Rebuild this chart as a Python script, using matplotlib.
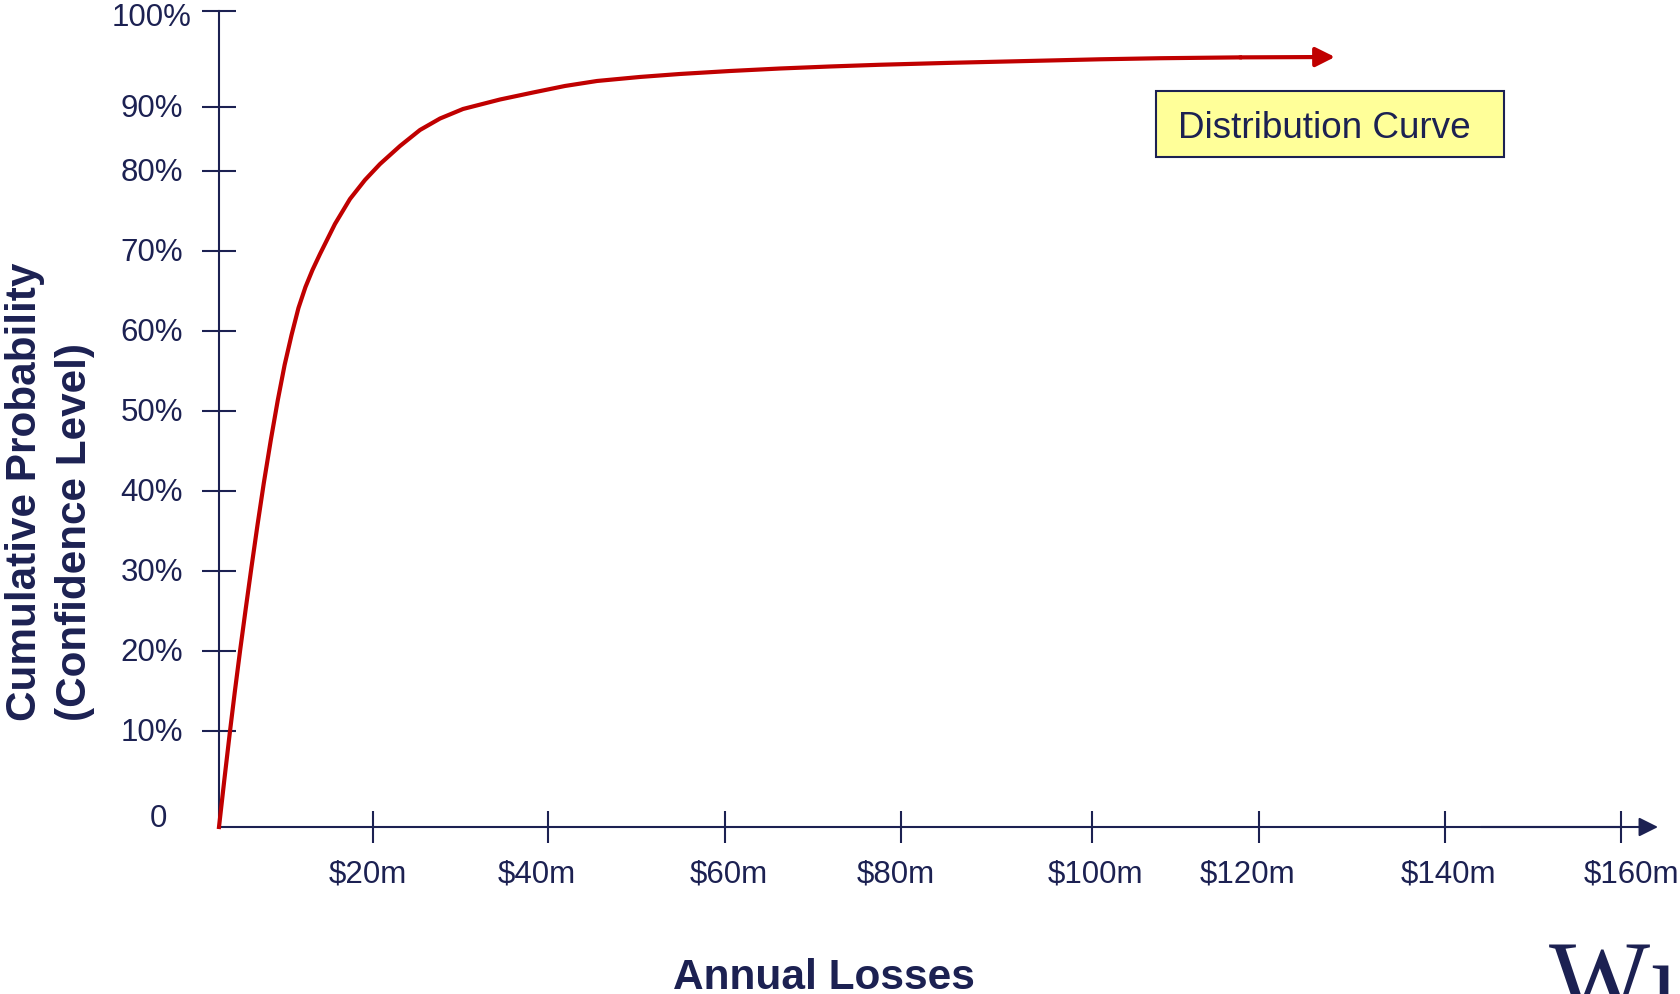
import matplotlib.pyplot as plt
import matplotlib.transforms as mtransforms
from matplotlib.patches import Rectangle
import numpy as np

plt.rcParams['font.family'] = ['Liberation Sans', 'DejaVu Sans']

# axis ticks (the drawing spaces them unevenly)
loss_ticks = [0, 20, 40, 60, 80, 100, 120, 140, 160]
loss_labels = [r'\$20m', r'\$40m', r'\$60m', r'\$80m', r'\$100m', r'\$120m', r'\$140m', r'\$160m']
prob_ticks = [0, 10, 20, 30, 40, 50, 60, 70, 80, 90, 100]
prob_labels = ['10%', '20%', '30%', '40%', '50%', '60%', '70%', '80%', '90%', '100%']

# distribution curve ($m, %)
loss = [0, 0.69, 1.40, 2.05, 2.75, 3.45, 4.22, 5.0, 5.82, 6.73, 7.64, 8.52, 9.42,
        10.32, 11.23, 12.14, 13.12, 15.06, 17.01, 18.96, 20.8, 23.09, 25.37, 27.66,
        30.29, 34.51, 38.29, 41.92, 45.54, 50.4, 54.92, 60.57, 66.25, 71.93, 77.61,
        85.13, 93.19, 100.96, 108.14, 117.72, 128.17]
prob = [0, 4.9, 9.79, 14.88, 20.13, 25.13, 30.5, 35.75, 41.0, 46.38, 51.38, 55.75, 59.5,
        62.88, 65.5, 67.63, 69.63, 73.38, 76.5, 78.88, 81.09, 83.91, 86.41, 88.2,
        89.69, 90.78, 91.51, 92.19, 92.71, 93.13, 93.44, 93.75, 94.01, 94.22, 94.4,
        94.6, 94.79, 94.97, 95.08, 95.17, 95.21]

# layout: pixel positions of the ticks in the 1681x994 image
W, H = 1681, 994
loss_tick_px = [219, 373, 548, 725, 901, 1092, 1259, 1445, 1621]
prob_tick_px = H - np.array([827, 731, 651, 571, 491, 411, 331, 251, 171, 107, 11])
loss_label_dx = [-5, -11, 4, -5, 3, -11, 3, 10]   # labels sit a bit off their ticks

navy = '#1c2152'
red = '#c00000'

fig = plt.figure(figsize=(16.81, 9.94), dpi=100)
ax = fig.add_axes([219 / W, prob_tick_px[0] / H, (1621 - 219) / W,
                   (prob_tick_px[-1] - prob_tick_px[0]) / H])

ax.set_xscale('function', functions=(lambda v: np.interp(v, loss_ticks, loss_tick_px),
                                     lambda p: np.interp(p, loss_tick_px, loss_ticks)))
ax.set_yscale('function', functions=(lambda v: np.interp(v, prob_ticks, prob_tick_px),
                                     lambda p: np.interp(p, prob_tick_px, prob_ticks)))
ax.set_xlim(0, 160)
ax.set_ylim(0, 100)

for s in ['top', 'right']:
    ax.spines[s].set_visible(False)
for s in ['left', 'bottom']:
    ax.spines[s].set_color(navy)
    ax.spines[s].set_linewidth(1.5)

ax.set_xticks(loss_ticks[1:])
ax.set_xticklabels(loss_labels)
ax.set_yticks(prob_ticks[1:])
ax.tick_params(axis='x', direction='inout', length=23, width=1.5, color=navy,
               labelsize=22.5, labelcolor=navy, pad=12)
ax.tick_params(axis='y', direction='inout', length=24, width=1.5, color=navy,
               labelleft=False)
for lab, dx in zip(ax.get_xticklabels(), loss_label_dx):
    lab.set_transform(lab.get_transform() +
                      mtransforms.ScaledTranslation(dx / 100, 0, fig.dpi_scale_trans))

# y labels are centred under each other
trans = mtransforms.blended_transform_factory(fig.transFigure, ax.transData)
for v, lab in zip(prob_ticks[1:], prob_labels):
    dy = -7 if lab == '100%' else -2
    ax.text(152 / W, v, lab, ha='center', va='center', fontsize=22.5, color=navy,
            transform=mtransforms.offset_copy(trans, fig=fig, y=dy, units='dots'))
ax.text(158 / W, 0, '0', transform=trans, ha='center', va='baseline',
        fontsize=22.5, color=navy)

# x axis arrow
ax.annotate('', xy=(1.0264, 0), xytext=(0.9, 0), xycoords='axes fraction',
            arrowprops=dict(arrowstyle='-|>,head_length=0.58,head_width=0.29',
                            mutation_scale=20, color=navy, lw=1.5,
                            shrinkA=0, shrinkB=0), annotation_clip=False)

# curve with arrow head
ax.plot(loss[:-1], prob[:-1], color=red, lw=3, clip_on=False, zorder=5,
        solid_joinstyle='round')
ax.annotate('', xy=(loss[-1], prob[-1]), xytext=(loss[-2], prob[-2]),
            arrowprops=dict(arrowstyle='-|>,head_length=0.58,head_width=0.29',
                            mutation_scale=20, color=red, lw=3,
                            shrinkA=0, shrinkB=0), annotation_clip=False, zorder=5)

# label box
fig.patches.append(Rectangle((1156 / W, (H - 157) / H), 348 / W, 66 / H,
                             transform=fig.transFigure, facecolor='#ffff99',
                             edgecolor=navy, lw=1.5))
fig.text(1178 / W, (H - 129) / H, 'Distribution Curve', ha='left', va='center',
         fontsize=26.6, color=navy)

fig.text(50 / W, (H - 492) / H, 'Cumulative Probability\n(Confidence Level)',
         rotation=90, ha='center', va='center', multialignment='left',
         fontsize=30.4, fontweight='bold', color=navy, linespacing=1.3)
fig.text(824 / W, (H - 989) / H, 'Annual Losses', ha='center', va='baseline',
         fontsize=30.5, fontweight='bold', color=navy)

# cut-off logo in the corner
fig.text(1549 / W, (H - 1015) / H, 'W\u0131', ha='left', va='baseline',
         fontsize=77, color=navy, family=['Liberation Serif', 'DejaVu Serif'])

fig.savefig('out.png', dpi=100)
